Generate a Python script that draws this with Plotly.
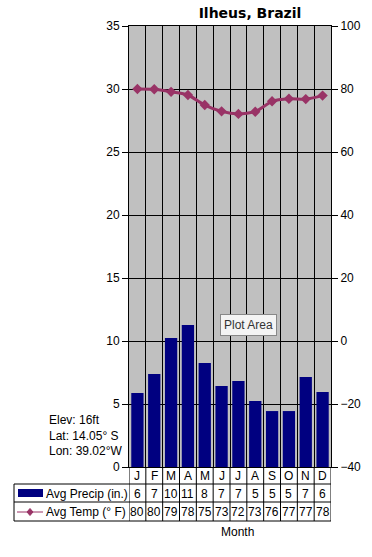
import plotly.graph_objects as go

months = ["J", "F", "M", "A", "M", "J", "J", "A", "S", "O", "N", "D"]
precip = [5.87, 7.38, 10.24, 11.27, 8.25, 6.43, 6.83, 5.24, 4.44, 4.44, 7.14, 5.95]
temp = [80.0, 79.9, 79.1, 78.1, 74.9, 72.9, 72.1, 72.8, 76.1, 76.9, 76.8, 77.9]
precip_table = ["6", "7", "10", "11", "8", "7", "7", "5", "5", "5", "7", "6"]
temp_table = ["80", "80", "79", "78", "75", "73", "72", "73", "76", "77", "77", "78"]
left_ticks = [0, 5, 10, 15, 20, 25, 30, 35]
right_ticks = [-40, -20, 0, 20, 40, 60, 80, 100]

FONT = "Liberation Sans"
FS = 12
W, H = 372, 557
L, R, T, B = 129, 331, 26, 467
pw, ph = R - L, B - T

def px(x):
    return (x - L) / pw

def py(y):
    return (B - y) / ph

xs = list(range(len(months)))

fig = go.Figure()
fig.add_trace(go.Bar(x=xs, y=precip, marker=dict(color="#000080", line=dict(width=0)),
                     yaxis="y", showlegend=False, hoverinfo="skip"))
fig.add_trace(go.Scatter(x=xs, y=temp, yaxis="y2", mode="lines+markers",
                         line=dict(color="#993366", width=3, shape="spline", smoothing=0.6),
                         marker=dict(symbol="diamond", size=8, color="#993366"),
                         showlegend=False, hoverinfo="skip"))

fig.update_layout(
    width=W, height=H,
    margin=dict(l=L, r=W - R, t=T, b=H - B, autoexpand=False),
    paper_bgcolor="white", plot_bgcolor="#C0C0C0",
    bargap=0.27,
    font=dict(family=FONT, size=FS, color="black"),
    title=dict(text="<b>Ilheus, Brazil</b>", x=250 / W, xanchor="center", y=1 - 13 / H,
               yanchor="middle", font=dict(size=14, family="DejaVu Sans")),
    xaxis=dict(range=[-0.5, 11.5], tickmode="array",
               tickvals=[i + 0.5 for i in range(-1, 12)], showticklabels=False,
               ticks="", showgrid=True, gridcolor="black", gridwidth=1,
               showline=True, linecolor="black", mirror=True, zeroline=False, fixedrange=True),
    yaxis=dict(range=[0, 35], tickvals=left_ticks, ticks="outside", ticklen=6,
               tickcolor="black", showgrid=True, gridcolor="black", gridwidth=1,
               showline=True, linecolor="black", zeroline=False, fixedrange=True),
    yaxis2=dict(range=[-40, 100], tickvals=right_ticks, overlaying="y", side="right",
                ticks="outside", ticklen=6, tickcolor="black", showgrid=False,
                showline=True, linecolor="black", zeroline=False, fixedrange=True),
)

shapes = []
line_style = dict(color="black", width=1)
for i in range(13):
    shapes.append(dict(type="line", xref="x", yref="paper", x0=i - 0.5, x1=i - 0.5,
                       y0=py(521), y1=0, line=line_style))
shapes.append(dict(type="line", xref="paper", yref="paper", x0=px(14), x1=px(14),
                   y0=py(521), y1=py(484), line=line_style))
for yy in (484, 502, 521):
    shapes.append(dict(type="line", xref="paper", yref="paper", x0=px(14), x1=1,
                       y0=py(yy), y1=py(yy), line=line_style))
shapes.append(dict(type="rect", xref="paper", yref="paper", x0=px(18), x1=px(43),
                   y0=py(497), y1=py(489), fillcolor="#000080", line=dict(width=0)))
shapes.append(dict(type="line", xref="paper", yref="paper", x0=px(17), x1=px(43),
                   y0=py(512), y1=py(512), line=dict(color="#993366", width=1)))
cx, cy = px(30), py(512)
dx, dy = 3 / pw, 3.5 / ph
shapes.append(dict(type="path", xref="paper", yref="paper",
                   path=f"M {cx-dx} {cy} L {cx} {cy+dy} L {cx+dx} {cy} L {cx} {cy-dy} Z",
                   fillcolor="#993366", line=dict(color="#993366", width=1)))
fig.update_layout(shapes=shapes)

ann = []
def A(**kw):
    d = dict(showarrow=False, yanchor="middle", xanchor="center")
    d.update(kw)
    ann.append(d)

for i, m in enumerate(months):
    A(x=i, y=py(476), xref="x", yref="paper", text=m)
    A(x=i, y=py(493.5), xref="x", yref="paper", text=precip_table[i])
    A(x=i, y=py(512), xref="x", yref="paper", text=temp_table[i])
A(x=px(44), y=py(493.5), xref="paper", yref="paper", text="Avg Precip (in.)", xanchor="left")
A(x=px(44), y=py(512), xref="paper", yref="paper", text="Avg Temp (° F)", xanchor="left")
A(x=px(237), y=py(532), xref="paper", yref="paper", text="Month")
for txt, yy in (("Elev: 16ft", 420), ("Lat: 14.05° S", 436), ("Lon: 39.02°W", 451)):
    A(x=px(47), y=py(yy), xref="paper", yref="paper", text=txt, xanchor="left")
A(x=px(248.5), y=py(325), xref="paper", yref="paper", text="Plot Area",
  font=dict(color="#333333"), bgcolor="#F4F4F4", bordercolor="#888888",
  borderwidth=1, borderpad=3)
fig.update_layout(annotations=ann)

fig.write_html("out.html", post_script="document.body.style.margin='0';",
               config={"displayModeBar": False, "staticPlot": True})
